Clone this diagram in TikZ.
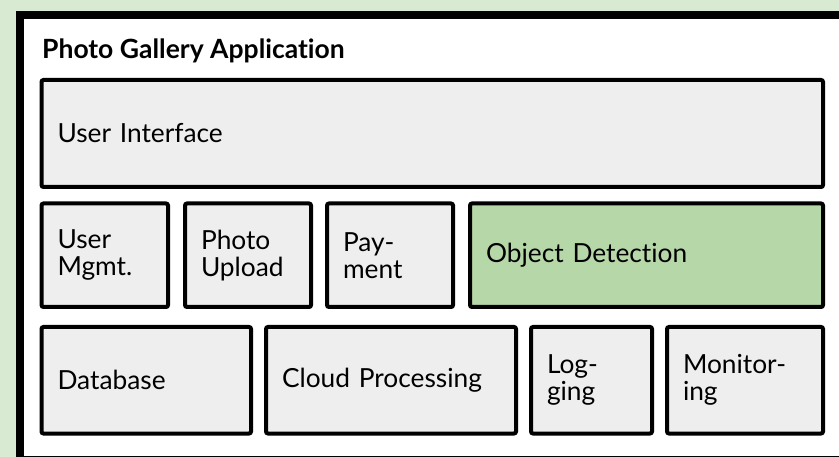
\documentclass[tikz,border=0pt]{standalone}
\usepackage{fontspec}
\setmainfont{Lato}[Ligatures=NoCommon]
\definecolor{bggreen}{HTML}{D9EAD3}
\definecolor{boxgray}{HTML}{EEEEEE}
\definecolor{detgreen}{HTML}{B6D7A8}
\tikzset{
  appframe/.style={draw=black, line width=8pt, fill=white, anchor=north west, inner sep=0pt},
  block/.style={draw=black, line width=4pt, fill=boxgray, rounded corners=2pt,
    anchor=north west, inner xsep=16pt, inner ysep=0pt, align=left,
    font=\fontsize{26.3}{27}\selectfont},
  highlight/.style={fill=detgreen},
  titletext/.style={anchor=base west, inner sep=0pt, font=\bfseries\fontsize{26.5}{28}\selectfont},
}
\begin{document}
\begin{tikzpicture}[x=1pt, y=-1pt]
  \useasboundingbox (0,0) rectangle (839,457);
  \clip (0,0) rectangle (839,457);
  \fill[bggreen] (0,0) rectangle (839,457);

  % application container
  \node[appframe, minimum width=831pt, minimum height=445pt] (app) at (16,11) {};
  \node[titletext] (title) at (42,59) {Photo Gallery Application};

  % top layer
  \node[block, minimum width=781.5pt, text width=749.5pt, minimum height=107pt] (ui) at (39.5,78) {User Interface};

  % middle layer
  \node[block, minimum width=126.5pt, text width=94.5pt, minimum height=103.5pt] (um) at (39.5,201.5) {User\\Mgmt.};
  \node[block, minimum width=126pt, text width=94pt, minimum height=103.5pt] (pu) at (183,201.5) {Photo\\Upload};
  \node[block, minimum width=126pt, text width=94pt, minimum height=103.5pt] (pay) at (325,201.5) {Pay-\\ment};
  \node[block, highlight, minimum width=353pt, text width=321pt, minimum height=103.5pt] (od) at (468,201.5) {Object Detection};

  % bottom layer
  \node[block, minimum width=209.5pt, text width=177.5pt, minimum height=106.5pt] (db) at (39.5,325) {Database};
  \node[block, minimum width=250pt, text width=218pt, minimum height=106.5pt] (cp) at (264,325) {Cloud Processing};
  \node[block, minimum width=121pt, text width=89pt, minimum height=106.5pt] (lg) at (529,325) {Log-\\ging};
  \node[block, minimum width=156pt, text width=124pt, minimum height=106.5pt] (mo) at (665,325) {Monitor-\\ing};
\end{tikzpicture}
\end{document}
